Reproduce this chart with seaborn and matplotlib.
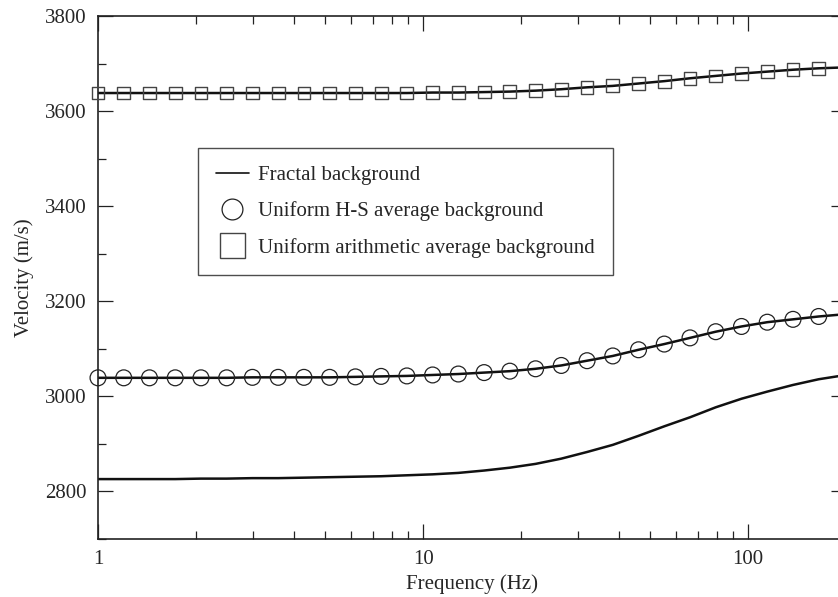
import numpy as np
import matplotlib
matplotlib.use("Agg")
import matplotlib.pyplot as plt
from matplotlib.lines import Line2D
from matplotlib.ticker import LogLocator, NullFormatter, FixedLocator, MultipleLocator
import pandas as pd
import seaborn as sns

# frequencies where the uniform-background markers sit (Hz)
freq = [1.0, 1.2, 1.44, 1.728, 2.074, 2.488, 2.986, 3.583, 4.300, 5.160,
        6.192, 7.430, 8.916, 10.70, 12.84, 15.41, 18.49, 22.19, 26.62, 31.95,
        38.34, 46.01, 55.21, 66.25, 79.50, 95.40, 114.5, 137.4, 164.8]
f_end = 200.0

# velocities (m/s)
v_fractal = [2826, 2826, 2826, 2826, 2827, 2827, 2828, 2828, 2829, 2830,
             2831, 2832, 2834, 2836, 2839, 2844, 2850, 2858, 2869, 2883,
             2898, 2917, 2937, 2956, 2977, 2995, 3010, 3024, 3036]
v_fractal_end = 3045

v_hs = [3039, 3039, 3039, 3039, 3039, 3039, 3040, 3040, 3040, 3040,
        3041, 3042, 3043, 3045, 3047, 3050, 3053, 3058, 3065, 3075,
        3085, 3098, 3110, 3123, 3136, 3147, 3156, 3162, 3168]
v_hs_end = 3173

v_arith = [3638, 3638, 3638, 3638, 3638, 3638, 3638, 3638, 3638, 3638,
           3638, 3638, 3638, 3639, 3639, 3640, 3641, 3643, 3646, 3650,
           3653, 3658, 3663, 3669, 3674, 3679, 3683, 3687, 3690]
v_arith_end = 3692

legend_labels = ["Fractal background",
                 "Uniform H-S average background",
                 "Uniform arithmetic average background"]

sns.set_style("ticks")
plt.rcParams['font.family'] = ['Liberation Serif', 'DejaVu Serif']

fig = plt.figure(figsize=(8.38, 5.97), dpi=100)
# right edge of the frame falls just outside the picture, as in the original
ax = fig.add_axes([98 / 838, 58 / 597, 748 / 838, 523 / 597])

f_line = freq + [f_end]
lines = pd.DataFrame({
    "f": f_line * 3,
    "v": v_fractal + [v_fractal_end] + v_hs + [v_hs_end] + v_arith + [v_arith_end],
    "s": ["frac"] * len(f_line) + ["hs"] * len(f_line) + ["ar"] * len(f_line),
})
sns.lineplot(data=lines, x="f", y="v", units="s", estimator=None,
             color="#111111", lw=1.8, ax=ax, legend=False, sort=False)

sns.scatterplot(x=freq, y=v_hs, marker="o", s=130, facecolor="none",
                edgecolor="#222222", linewidth=0.9, ax=ax, zorder=3, clip_on=False)
sns.scatterplot(x=freq, y=v_arith, marker="s", s=85, facecolor="none",
                edgecolor="#444444", linewidth=1.0, ax=ax, zorder=3, clip_on=False)

ax.set_xscale("log")
ax.set_xlim(1, 200)
ax.set_ylim(2700, 3800)

ax.xaxis.set_major_locator(FixedLocator([1, 10, 100]))
ax.set_xticklabels(["1", "10", "100"])
ax.xaxis.set_minor_locator(LogLocator(base=10, subs=np.arange(2, 10)))
ax.xaxis.set_minor_formatter(NullFormatter())
ax.yaxis.set_major_locator(MultipleLocator(200))
ax.yaxis.set_minor_locator(MultipleLocator(100))

ax.tick_params(which="both", direction="in", top=True, right=True,
               width=0.9, color="#222222")
ax.tick_params(which="major", length=11, labelsize=15)
ax.tick_params(axis="y", which="major", pad=8)
ax.tick_params(axis="x", which="major", pad=8)
ax.tick_params(which="minor", length=6)
for sp in ax.spines.values():
    sp.set_linewidth(1.2)
    sp.set_color("#222222")

ax.set_xlabel("Frequency (Hz)", fontsize=15, labelpad=4)
ax.set_ylabel("Velocity (m/s)", fontsize=15, labelpad=8)

handles = [
    Line2D([], [], color="#111111", lw=1.2),
    Line2D([], [], color="none", marker="o", markersize=15,
           markerfacecolor="none", markeredgecolor="#222222", markeredgewidth=0.9),
    Line2D([], [], color="none", marker="s", markersize=18,
           markerfacecolor="none", markeredgecolor="#444444", markeredgewidth=1.0),
]
leg = ax.legend(handles, legend_labels, loc="upper left",
                bbox_to_anchor=(0.1337, 0.7476), frameon=True, fancybox=False,
                fontsize=15, handlelength=1.6, handletextpad=0.45,
                labelspacing=0.78, borderpad=0.85, borderaxespad=0)
leg.get_frame().set_edgecolor("#222222")
leg.get_frame().set_linewidth(1.0)

fig.savefig("out.png", dpi=100)
